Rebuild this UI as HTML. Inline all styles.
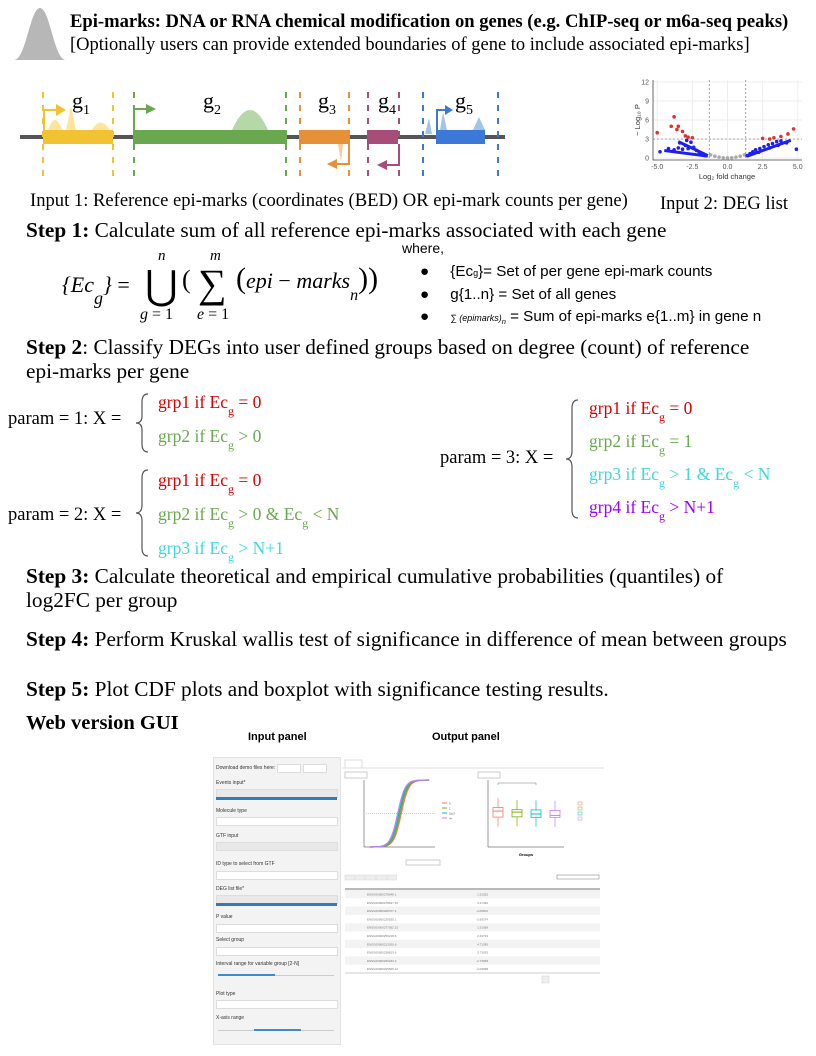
<!DOCTYPE html>
<html><head><meta charset="utf-8">
<style>
body{margin:0;background:#fff;}
#root{position:relative;width:816px;height:1056px;overflow:hidden;font-family:"Liberation Serif",serif;color:#000;}
.a{position:absolute;white-space:nowrap;}
.s{font-family:"Liberation Sans",sans-serif;}
.st{font-size:21.3px;}
.sub{font-size:12px;position:relative;top:7px;}
.red{color:#d90000}.grn{color:#6aa84f}.cyn{color:#3fd6dd}.pur{color:#9900ff}
.gl{font-size:13px;color:#333;}
.ib{position:absolute;background:#fff;border:1px solid #ddd;height:7px;}
.g{font-size:17.5px}
.pl{font-size:18.5px}
</style></head><body>
<div id="root">

<svg class="a" style="left:12px;top:6px" width="56" height="56"><path d="M2,54 C14,54 18,2 28,2 C38,2 42,54 54,54 Z" fill="#b7b7b7"/></svg>
<div class="a" style="left:70px;top:11px;font-size:18.6px;font-weight:bold">Epi-marks: DNA or RNA chemical modification on genes (e.g. ChIP-seq or m6a-seq peaks)</div>
<div class="a" style="left:70px;top:35px;font-size:18.5px">[Optionally users can provide extended boundaries of gene to include associated epi-marks]</div>

<svg class="a" style="left:0;top:70px" width="520" height="120">
 <line x1="20" y1="67" x2="505" y2="67" stroke="#555" stroke-width="4"/>
 <g stroke-width="2" stroke-dasharray="6,7">
  <line x1="43" y1="22" x2="43" y2="112" stroke="#f1c232"/><line x1="113" y1="22" x2="113" y2="112" stroke="#f1c232"/>
  <line x1="134" y1="22" x2="134" y2="112" stroke="#6aa84f"/><line x1="286" y1="22" x2="286" y2="112" stroke="#6aa84f"/>
  <line x1="300" y1="22" x2="300" y2="112" stroke="#e69138"/><line x1="349" y1="22" x2="349" y2="112" stroke="#e69138"/>
  <line x1="368" y1="22" x2="368" y2="112" stroke="#a64d79"/><line x1="399" y1="22" x2="399" y2="112" stroke="#a64d79"/>
  <line x1="423" y1="22" x2="423" y2="112" stroke="#3c78d8"/><line x1="498" y1="22" x2="498" y2="112" stroke="#3c78d8"/>
 </g>
 <path d="M48,60 Q55,40 62,60Z M66,60 L71,36 L76,60Z M92,60 Q100,45 110,60Z" fill="#ffe599"/>
 <path d="M232,60 Q250,20 268,60Z" fill="#b6d7a8"/>
 <path d="M338,74 L343,74 L341,92Z" fill="#f9cb9c"/>
 <path d="M425,64 L429,48 L432,64Z M440,60 L443,42 L447,60Z M473,60 L479,47 L485,60Z" fill="#9fc5e8"/>
 <rect x="43" y="60" width="70" height="14" fill="#f1c232"/>
 <rect x="133" y="60" width="154" height="14" fill="#6aa84f"/>
 <rect x="299" y="60" width="51" height="14" fill="#e69138"/>
 <rect x="367" y="60" width="31" height="14" fill="#a64d79"/>
 <rect x="436" y="60" width="49" height="14" fill="#3c78d8"/>
 <g fill="none" stroke-width="2">
  <polyline points="44,60 44,40 58,40" stroke="#f1c232"/><path d="M56,34 L66,40 L56,46Z" fill="#f1c232" stroke="none"/>
  <polyline points="134,60 134,39 147,39" stroke="#6aa84f"/><path d="M146,34 L156,39 L146,44Z" fill="#6aa84f" stroke="none"/>
  <polyline points="349,74 349,94 336,94" stroke="#e69138"/><path d="M337,89 L327,94 L337,99Z" fill="#e69138" stroke="none"/>
  <polyline points="399,74 399,95 386,95" stroke="#a64d79"/><path d="M387,90 L377,95 L387,100Z" fill="#a64d79" stroke="none"/>
  <polyline points="437,60 437,40 446,40" stroke="#3c78d8"/><path d="M445,35 L453,40 L445,45Z" fill="#3c78d8" stroke="none"/>
 </g>
 <g font-family="Liberation Serif" font-size="22">
  <text x="72" y="38">g<tspan font-size="14" dy="6">1</tspan></text>
  <text x="203" y="38">g<tspan font-size="14" dy="6">2</tspan></text>
  <text x="318" y="38">g<tspan font-size="14" dy="6">3</tspan></text>
  <text x="378" y="38">g<tspan font-size="14" dy="6">4</tspan></text>
  <text x="455" y="38">g<tspan font-size="14" dy="6">5</tspan></text>
 </g>
</svg>

<svg class="a" id="volcano" style="left:620px;top:72px" width="196" height="120"></svg>

<div class="a" style="left:30px;top:190px;font-size:18.6px">Input 1: Reference epi-marks (coordinates (BED) OR epi-mark counts per gene)</div>
<div class="a" style="left:660px;top:194px;font-size:18.5px">Input 2: DEG list</div>

<div class="a st" style="left:26px;top:218px"><b>Step 1:</b> Calculate sum of all reference epi-marks associated with each gene</div>
<div class="a s" style="left:402px;top:240px;font-size:14px">where,</div>
<div class="a" style="left:62px;top:272px;font-size:22px;font-style:italic">{Ec<span style="font-size:18px;position:relative;top:12px">g</span>} <span style="font-style:normal">=</span></div>
<div class="a" style="left:158px;top:248px;font-size:15px;font-style:italic">n</div>
<div class="a" style="left:145px;top:262px;font-size:40px">⋃</div>
<div class="a" style="left:140px;top:306px;font-size:16px;font-style:italic">g <span style="font-style:normal">= 1</span></div>
<div class="a" style="left:182px;top:265px;font-size:26px">(</div>
<div class="a" style="left:210px;top:248px;font-size:15px;font-style:italic">m</div>
<div class="a" style="left:198px;top:260px;font-size:40px">∑</div>
<div class="a" style="left:197px;top:306px;font-size:16px;font-style:italic">e <span style="font-style:normal">= 1</span></div>
<div class="a" style="left:236px;top:262px;font-size:22px;font-style:italic"><span style="font-style:normal;font-size:30px">(</span>epi <span style="font-style:normal">−</span> marks<span style="font-size:16px;position:relative;top:12px">n</span><span style="font-style:normal;font-size:30px">))</span></div>
<div class="a s" style="left:420px;top:261px;font-size:15.2px;line-height:22px">
 <div>●&nbsp;&nbsp;&nbsp;&nbsp;&nbsp;{Ec<span style="font-size:9px">g</span>}= Set of per gene epi-mark counts</div>
 <div>●&nbsp;&nbsp;&nbsp;&nbsp;&nbsp;g{1..n} = Set of all genes</div>
 <div>●&nbsp;&nbsp;&nbsp;&nbsp;&nbsp;<span style="font-size:9px;font-style:italic">∑ (epimarks)<sub>n</sub></span> = Sum of epi-marks e{1..m} in gene n</div>
</div>

<div class="a st" style="left:26px;top:335px;line-height:24px"><b>Step 2</b>: Classify DEGs into user defined groups based on degree (count) of reference<br>epi-marks per gene</div>

<div class="a pl" style="left:8px;top:409px">param = 1: X =</div>
<svg class="a" style="left:132px;top:392px" width="20" height="62"><path d="M16,2 Q10,2 10,10 L10,24 Q10,31 4,31 Q10,31 10,38 L10,52 Q10,60 16,60" fill="none" stroke="#555" stroke-width="1.2"/></svg>
<div class="a red g" style="left:158px;top:392px">grp1 if Ec<span class="sub">g</span> = 0</div>
<div class="a grn g" style="left:158px;top:426px">grp2 if Ec<span class="sub">g</span> &gt; 0</div>

<div class="a pl" style="left:8px;top:505px">param = 2: X =</div>
<svg class="a" style="left:132px;top:468px" width="20" height="90"><path d="M16,2 Q10,2 10,10 L10,37 Q10,45 4,45 Q10,45 10,53 L10,80 Q10,88 16,88" fill="none" stroke="#555" stroke-width="1.2"/></svg>
<div class="a red g" style="left:158px;top:470px">grp1 if Ec<span class="sub">g</span> = 0</div>
<div class="a grn g" style="left:158px;top:504px">grp2 if Ec<span class="sub">g</span> &gt; 0 &amp; Ec<span class="sub">g</span> &lt; N</div>
<div class="a cyn g" style="left:158px;top:538px">grp3 if Ec<span class="sub">g</span> &gt; N+1</div>

<div class="a pl" style="left:440px;top:448px">param = 3: X =</div>
<svg class="a" style="left:562px;top:398px" width="20" height="122"><path d="M16,2 Q10,2 10,10 L10,53 Q10,61 4,61 Q10,61 10,69 L10,112 Q10,120 16,120" fill="none" stroke="#555" stroke-width="1.2"/></svg>
<div class="a red g" style="left:589px;top:398px">grp1 if Ec<span class="sub">g</span> = 0</div>
<div class="a grn g" style="left:589px;top:431px">grp2 if Ec<span class="sub">g</span> = 1</div>
<div class="a cyn g" style="left:589px;top:464px">grp3 if Ec<span class="sub">g</span> &gt; 1 &amp; Ec<span class="sub">g</span> &lt; N</div>
<div class="a pur g" style="left:589px;top:497px">grp4 if Ec<span class="sub">g</span> &gt; N+1</div>

<div class="a st" style="left:26px;top:564px;line-height:24px"><b>Step 3:</b> Calculate theoretical and empirical cumulative probabilities (quantiles) of<br>log2FC per group</div>
<div class="a st" style="left:26px;top:627px"><b>Step 4:</b> Perform Kruskal wallis test of significance in difference of mean between groups</div>
<div class="a st" style="left:26px;top:677px"><b>Step 5:</b> Plot CDF plots and boxplot with significance testing results.</div>
<div class="a" style="left:26px;top:712px;font-size:20.5px;font-weight:bold">Web version GUI</div>

<!-- GUI screenshot -->
<div class="a s" style="left:248px;top:731px;font-size:11px;font-weight:bold">Input panel</div>
<div class="a s" style="left:432px;top:731px;font-size:11px;font-weight:bold">Output panel</div>
<div class="a" style="left:213px;top:757px;width:126px;height:286px;background:#f3f3f3;border:1px solid #e3e3e3">
 <div class="a s gl" style="left:2px;top:7px;font-size:5px">Download demo files here:</div>
 <div class="ib" style="left:63px;top:6px;width:22px"></div>
 <div class="ib" style="left:89px;top:6px;width:22px"></div>
 <div class="a s gl" style="left:2px;top:22px;font-size:5px">Events input*</div>
 <div class="ib" style="left:2px;top:31px;width:120px;background:#e8e8e8"></div>
 <div class="a" style="left:2px;top:39px;width:121px;height:3px;background:#337ab7"></div>
 <div class="a s gl" style="left:2px;top:50px;font-size:5px">Molecule type</div>
 <div class="ib" style="left:2px;top:59px;width:120px"></div>
 <div class="a s gl" style="left:2px;top:75px;font-size:5px">GTF input</div>
 <div class="ib" style="left:2px;top:84px;width:120px;background:#e8e8e8"></div>
 <div class="a s gl" style="left:2px;top:103px;font-size:5px">ID type to select from GTF</div>
 <div class="ib" style="left:2px;top:113px;width:120px"></div>
 <div class="a s gl" style="left:2px;top:128px;font-size:5px">DEG list file*</div>
 <div class="ib" style="left:2px;top:137px;width:120px;background:#e8e8e8"></div>
 <div class="a" style="left:2px;top:145px;width:121px;height:3px;background:#337ab7"></div>
 <div class="a s gl" style="left:2px;top:156px;font-size:5px">P value</div>
 <div class="ib" style="left:2px;top:166px;width:120px"></div>
 <div class="a s gl" style="left:2px;top:179px;font-size:5px">Select group</div>
 <div class="ib" style="left:2px;top:189px;width:120px"></div>
 <div class="a s gl" style="left:2px;top:203px;font-size:5px">Interval range for variable group [2-N]</div>
 <div class="a" style="left:4px;top:217px;width:116px;height:1px;background:#ccc"></div>
 <div class="a" style="left:4px;top:216px;width:57px;height:2px;background:#428bca"></div>
 <div class="a s gl" style="left:2px;top:233px;font-size:5px">Plot type</div>
 <div class="ib" style="left:2px;top:242px;width:120px"></div>
 <div class="a s gl" style="left:2px;top:257px;font-size:5px">X-axis range</div>
 <div class="a" style="left:4px;top:272px;width:116px;height:1px;background:#ccc"></div>
 <div class="a" style="left:40px;top:271px;width:47px;height:2px;background:#428bca"></div>
</div>
<svg class="a" id="gui-out" style="left:342px;top:758px" width="262" height="230"></svg>

</div>
<script>
// volcano data: [log2FC, -log10P]
const volcanoRed=[[-5,4],[-4,5],[-3.8,6.5],[-3.5,5],[-3.2,4.2],[-3,3.5],[-2.8,3.3],[-2.5,3.2],[-3.6,4.5],[2.5,3.1],[3.3,3.2],[3.8,3.4],[4.3,3.8],[4.7,4.6],[3.0,3.0]];
const volcanoBlue=[[-4.8,1],[-4.2,1.5],[-3.8,1.3],[-3.5,1.6],[-3.2,1.4],[-3,2],[-2.8,1.5],[-2.6,2.5],[-2.4,1.7],[-2.2,1.2],[-2,0.8],[-1.8,0.6],[-1.6,0.4],[-3.4,2.4],[-2.9,2.8],[1.4,0.4],[1.6,0.7],[1.8,1],[2,1.3],[2.3,1.5],[2.6,1.8],[2.9,2.1],[3.2,2.3],[3.5,2.6],[3.8,2.7],[4.2,2.4],[4.9,1.4],[2.2,0.9],[3.0,1.6],[3.6,2.0]];
const volcanoGrey=[[-1.2,0.5],[-0.9,0.3],[-0.6,0.15],[-0.3,0.05],[0,0.02],[0.3,0.05],[0.6,0.15],[0.9,0.3],[1.2,0.5]];
const volXTicks=[-5,-2.5,0,2.5,5];
const volYTicks=[0,3,6,9,12];
(function(){
 const svg=document.getElementById('volcano');const NS='http://www.w3.org/2000/svg';
 const x0=33,x1=182,y0=88,y1=8;
 const sx=v=>x0+(v+5.3)/(10.6)*(x1-x0), sy=v=>y0-(v+0.3)/12.6*(y0-y1);
 function mk(t,a){const e=document.createElementNS(NS,t);for(const k in a)e.setAttribute(k,a[k]);svg.appendChild(e);return e;}
 volXTicks.forEach(v=>{const l=mk('line',{x1:sx(v),x2:sx(v),y1:y1,y2:y0,stroke:'#eee'});
  const t=mk('text',{x:sx(v),y:y0+9,'font-size':7,'text-anchor':'middle',fill:'#555','font-family':'Liberation Sans'});t.textContent=v.toFixed(1);});
 volYTicks.forEach(v=>{const l=mk('line',{x1:x0,x2:x1,y1:sy(v),y2:sy(v),stroke:'#eee'});
  const t=mk('text',{x:x0-4,y:sy(v)+2.5,'font-size':7,'text-anchor':'end',fill:'#555','font-family':'Liberation Sans'});t.textContent=v;});
 let a=mk('path',{d:`M${x0},${y1} V${y0} H${x1}`,fill:'none',stroke:'#444','stroke-width':0.8});
 [[sx(-1.3),sx(-1.3),y1,y0],[sx(1.3),sx(1.3),y1,y0],[x0,x1,sy(3),sy(3)]].forEach(c=>{const l=mk('line',{x1:c[0],x2:c[1],y1:c[2],y2:c[3],stroke:'#777','stroke-dasharray':'2,2','stroke-width':0.7});});
 const pts=(arr,col,nm)=>arr.forEach(p=>{const c=mk('circle',{cx:sx(p[0]),cy:sy(p[1]),r:1.8,fill:col});});
 pts(volcanoGrey,'#aaa','volcano-point-ns');pts(volcanoBlue,'#2020ee','volcano-point-p');pts(volcanoRed,'#e03030','volcano-point-sig');
 [[-4.5,1.2,-1.4,0.3],[1.4,0.3,4.5,2.8],[-3.5,2.6,-1.4,0.4]].forEach(b=>{const l=mk('line',{x1:sx(b[0]),y1:sy(b[1]),x2:sx(b[2]),y2:sy(b[3]),stroke:'#2020ee','stroke-width':3});});
 let t=mk('text',{x:107,y:y0+19,'font-size':7.5,'text-anchor':'middle',fill:'#333','font-family':'Liberation Sans'});t.textContent='Log₂ fold change';
 t=mk('text',{x:0,y:0,'font-size':7.5,'text-anchor':'middle',fill:'#333','font-family':'Liberation Sans',transform:`translate(20,${(y0+y1)/2}) rotate(-90)`});t.textContent='− Log₁₀ P';
})();

// GUI output panel: CDF curves and boxplot
const cdfGroups=['0','1','2to3','4+'];
const cdfShift=[0.3,0.1,-0.1,-0.3];
const boxMedian=[1,0.6,-0.2,-0.8];
const boxQ1=[-1.5,-1.4,-1.6,-1.6];
const boxQ3=[2.5,1.6,1.5,1.3];
const groupColors=['#f8766d','#7cae00','#00bfc4','#c77cff'];
const tableRows=[['ENSG00000278048.1','1.51025'],['ENSG00000278627.15','3.17332'],['ENSG00000268707.1','-4.09502'],['ENSG00000229535.1','-2.69374'],['ENSG00000277052.15','1.51058'],['ENSG00000256218.6','2.43733'],['ENSG00000213205.6','4.71285'],['ENSG00000238813.6','3.73635'],['ENSG00000260183.2','-2.73668'],['ENSG00000225606.12','-2.09098']];
(function(){
 const svg=document.getElementById('gui-out');const NS='http://www.w3.org/2000/svg';
 function mk(t,a,nm){const e=document.createElementNS(NS,t);for(const k in a)e.setAttribute(k,a[k]);svg.appendChild(e);return e;}
 mk('rect',{x:0,y:0,width:262,height:230,fill:'#fff'},'output-bg');
 mk('line',{x1:0,y1:10,x2:262,y2:10,stroke:'#ddd'},'tab-line');
 mk('rect',{x:3,y:2,width:17,height:8,fill:'#fff',stroke:'#ddd'},'tab-results');
 mk('rect',{x:3,y:14,width:22,height:6,fill:'#fff',stroke:'#ccc'},'download-cdf');
 mk('rect',{x:136,y:14,width:22,height:6,fill:'#fff',stroke:'#ccc'},'download-box');
 const cx0=22,cx1=93,cy0=89,cy1=22;
 mk('path',{d:`M${cx0},${cy1} V${cy0} H${cx1}`,fill:'none',stroke:'#333','stroke-width':0.5},'cdf-axes');
 mk('line',{x1:cx0,x2:cx1,y1:(cy0+cy1)/2,y2:(cy0+cy1)/2,stroke:'#ccc','stroke-dasharray':'1,1'},'cdf-mid');
 const sx=v=>cx0+(v+6)/12*(cx1-cx0), sy=p=>cy0-p*(cy0-cy1);
 cdfShift.forEach((s,i)=>{let d='';for(let k=0;k<=30;k++){const v=-5+k*10/30;const p=1/(1+Math.exp(-(v-s)*1.6));d+=(k?'L':'M')+sx(v).toFixed(1)+','+sy(p).toFixed(1);}
  mk('path',{d:d,fill:'none',stroke:groupColors[i],'stroke-width':1.3},'cdf-curve');
  mk('line',{x1:100,x2:105,y1:45+i*5,y2:45+i*5,stroke:groupColors[i]},'cdf-legend-key');
  const t=mk('text',{x:107,y:46.5+i*5,'font-size':3,fill:'#555','font-family':'Liberation Sans'},'cdf-legend-label');t.textContent=cdfGroups[i];});
 const bx0=146,bx1=222,by0=89,by1=22;
 mk('path',{d:`M${bx0},${by1} V${by0} H${bx1}`,fill:'none',stroke:'#333','stroke-width':0.5},'box-axes');
 const by=v=>by0-(v+14)/28*(by0-by1);
 boxMedian.forEach((m,i)=>{const xc=bx0+10+i*19;
  mk('line',{x1:xc,x2:xc,y1:by(boxQ3[i]+4),y2:by(boxQ1[i]-4),stroke:groupColors[i],'stroke-width':0.7},'box-whisker');
  mk('rect',{x:xc-5,y:by(boxQ3[i]),width:10,height:by(boxQ1[i])-by(boxQ3[i]),fill:'#fff',stroke:groupColors[i],'stroke-width':0.8},'box-body');
  mk('line',{x1:xc-5,x2:xc+5,y1:by(m),y2:by(m),stroke:groupColors[i],'stroke-width':1},'box-median');
  mk('rect',{x:236,y:44+i*5,width:4,height:3,fill:'none',stroke:groupColors[i],'stroke-width':0.5},'box-legend-key');});
 mk('path',{d:`M${bx0+10},27 V25 H${bx0+48} V27`,fill:'none',stroke:'#555','stroke-width':0.4},'signif-bracket');
 const gl=mk('text',{x:184,y:98,'font-size':4,'text-anchor':'middle','font-weight':'bold','font-family':'Liberation Sans'},'box-x-title');gl.textContent='Groups';
 mk('rect',{x:64,y:102,width:34,height:5,fill:'#fff',stroke:'#ccc'},'group-select');
 ['Copy','CSV','Excel','PDF','Print'].forEach((b,i)=>{mk('rect',{x:3+i*10.5,y:117,width:9.5,height:5,fill:'#eee',stroke:'#ccc','stroke-width':0.4},'table-button');});
 mk('rect',{x:215,y:117,width:42,height:4,fill:'#fff',stroke:'#555','stroke-width':0.4},'search-box');
 mk('line',{x1:3,x2:258,y1:131,y2:131,stroke:'#444','stroke-width':0.8},'table-header-line');
 tableRows.forEach((r,i)=>{const y=132+i*8.3;if(i%2==0)mk('rect',{x:3,y:y,width:255,height:8.3,fill:'#f3f3f3'},'table-row');
  let t=mk('text',{x:25,y:y+5.5,'font-size':3,fill:'#777','font-family':'Liberation Sans'},'table-gene');t.textContent=r[0];
  t=mk('text',{x:146,y:y+5.5,'font-size':3,fill:'#777','text-anchor':'end','font-family':'Liberation Sans'},'table-fc');t.textContent=r[1];});
 mk('line',{x1:3,x2:258,y1:215,y2:215,stroke:'#999','stroke-width':0.6},'table-bottom-line');
 mk('rect',{x:200,y:218,width:7,height:7,fill:'#eee',stroke:'#ccc','stroke-width':0.4},'page-button');
})();
</script>
</body></html>
